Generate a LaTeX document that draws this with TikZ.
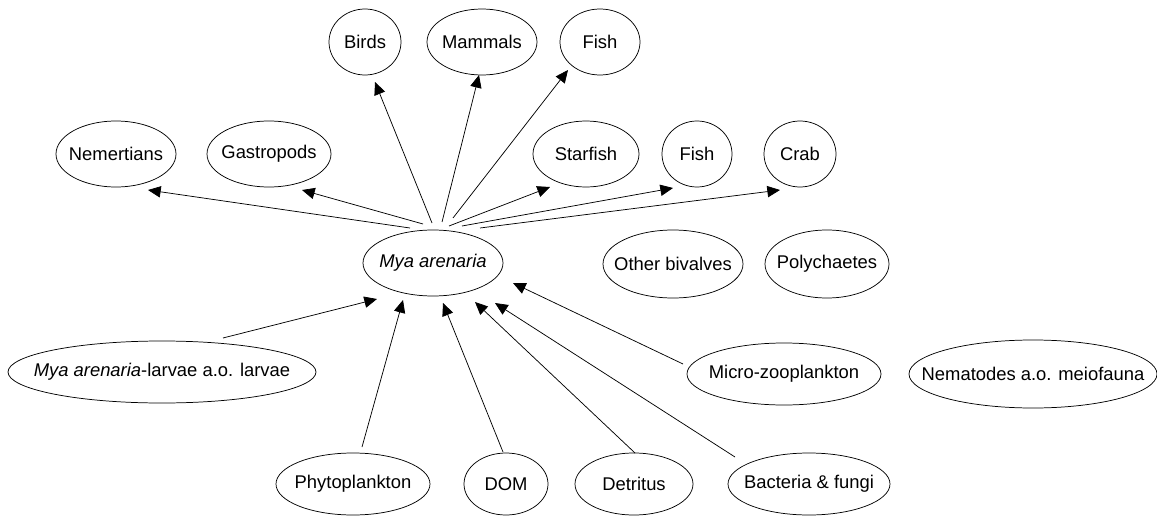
\documentclass[tikz,border=0pt]{standalone}
\usepackage{fontspec}
\setmainfont{Liberation Sans}
\usetikzlibrary{shapes.geometric,arrows.meta,calc}
\newcommand{\zl}[1]{\makebox[0pt]{#1}}
\begin{document}
\begin{tikzpicture}[x=0.75pt,y=-0.75pt,
  box/.style={ellipse,draw,line width=0.55pt,inner sep=0pt,font=\fontsize{13.8}{16}\selectfont},
  arr/.style={line width=0.55pt,-{Triangle[length=9.5pt,width=8.5pt]}}]
\useasboundingbox (0,0) rectangle (1157,517);
% top row
\node[box,minimum width=54pt,minimum height=49.5pt] (birds) at (365,42) {\zl{Birds}};
\node[box,minimum width=82.5pt,minimum height=49.5pt] (mammals) at (482,42) {\zl{Mammals}};
\node[box,minimum width=60pt,minimum height=49.5pt] (fisha) at (600,42) {\zl{Fish}};
% second row
\node[box,minimum width=90pt,minimum height=49.5pt] (nem) at (116,154) {\zl{Nemertians}};
\node[box,minimum width=93pt,minimum height=49.5pt] (gas) at (269,154) {\zl{Gastropods}};
\node[box,minimum width=79.5pt,minimum height=49.5pt] (star) at (586,154) {\zl{Starfish}};
\node[box,minimum width=52.5pt,minimum height=49.5pt] (fishb) at (697,154) {\zl{Fish}};
\node[box,minimum width=54pt,minimum height=49.5pt] (crab) at (800,154) {\zl{Crab}};
% middle row
\node[box,minimum width=105pt,minimum height=49.5pt] (mya) at (433,263) {\zl{\itshape Mya arenaria}};
\node[box,minimum width=105pt,minimum height=51pt] (biv) at (673,264) {\zl{Other bivalves}};
\node[box,minimum width=93pt,minimum height=51pt] (poly) at (827,264) {\zl{Polychaetes}};
% fourth row
\node[box,minimum width=231pt,minimum height=46.5pt] (larv) at (162,372) {\zl{\textit{Mya arenaria}-larvae a.o. larvae}};
\node[box,minimum width=145.5pt,minimum height=46.5pt] (micro) at (784,374) {\zl{Micro-zooplankton}};
\node[box,minimum width=186pt,minimum height=51pt] (nema) at (1033,374) {\zl{Nematodes a.o. meiofauna}};
% bottom row
\node[box,minimum width=115.5pt,minimum height=46.5pt] (phyto) at (353,484) {\zl{Phytoplankton}};
\node[box,minimum width=63pt,minimum height=46.5pt] (dom) at (506,484) {\zl{DOM}};
\node[box,minimum width=88.5pt,minimum height=46.5pt] (detr) at (634,484) {\zl{Detritus}};
\node[box,minimum width=121.5pt,minimum height=46.5pt] (bact) at (809,484) {\zl{Bacteria \& fungi}};
% outgoing arrows
\draw[arr] ($(mya)+(-23,-35)$) -- ($(nem)+(32,36)$);
\draw[arr] ($(mya)+(-10,-39)$) -- ($(gas)+(33,36)$);
\draw[arr] ($(mya)+(-1,-40)$) -- ($(birds)+(10,40)$);
\draw[arr] ($(mya)+(9,-41)$) -- ($(mammals)+(-3,33)$);
\draw[arr] ($(mya)+(20,-45)$) -- ($(fisha)+(-32,28)$);
\draw[arr] ($(mya)+(16,-37)$) -- ($(star)+(-36,33)$);
\draw[arr] ($(mya)+(29,-37)$) -- ($(fishb)+(-24,34)$);
\draw[arr] ($(mya)+(47,-35)$) -- ($(crab)+(-20,36)$);
% incoming arrows
\draw[arr] ($(larv)+(61,-34)$) -- ($(mya)+(-56,36)$);
\draw[arr] ($(phyto)+(9,-37)$) -- ($(mya)+(-30,37)$);
\draw[arr] ($(dom)+(-3,-32)$) -- ($(mya)+(10,40)$);
\draw[arr] ($(detr)+(1,-31)$) -- ($(mya)+(42,39)$);
\draw[arr] ($(bact)+(-74,-27)$) -- ($(mya)+(62,40)$);
\draw[arr] ($(micro)+(-101,-10)$) -- ($(mya)+(80,20)$);
\end{tikzpicture}
\end{document}
